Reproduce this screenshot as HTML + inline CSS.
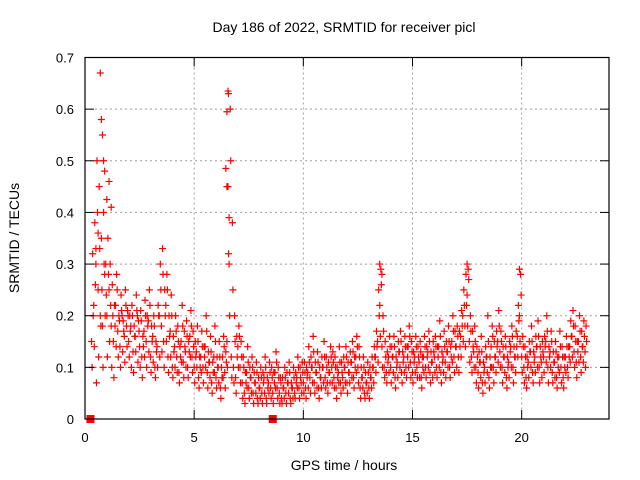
<!DOCTYPE html>
<html><head><meta charset="utf-8"><style>
body{margin:0;background:#fff}
svg{display:block;font-family:"Liberation Sans",sans-serif}
</style></head><body>
<svg id="chart" width="640" height="480" viewBox="0 0 640 480">
<g id="grid"></g>
<g id="pts"></g>
<rect x="85" y="57.5" width="524" height="361.5" fill="none" stroke="#000" stroke-width="1.2"/>
<g id="ticks"></g>
<text x="344" y="32" font-size="14" text-anchor="middle">Day 186 of 2022, SRMTID for receiver picl</text>
<text x="344" y="470" font-size="14" text-anchor="middle">GPS time / hours</text>
<text transform="translate(19,238) rotate(-90)" font-size="14" text-anchor="middle">SRMTID / TECUs</text>
</svg>
<script>
const xTicks=[0,5,10,15,20];
const yTicks=[0,0.1,0.2,0.3,0.4,0.5,0.6,0.7];
const yTickLabels=["0","0.1","0.2","0.3","0.4","0.5","0.6","0.7"];
const tStart=0.3, tStep=0.1;
const seriesA=[.15,.22,.3,.25,.2,.18,.28,
.2,.25,.18,.15,.22,.17,.14,.2,.16,.18,
.15,.18,.13,.16,.2,.14,.12,.17,.15,.19,
.12,.16,.1,.14,.2,.18,.15,.22,.12,.17,
.1,.14,.12,.09,.15,.11,.13,.1,.16,.12,
.1,.13,.08,.12,.1,.14,.09,.11,.07,.12,
.08,.1,.06,.12,.09,.15,.3,.12,.1,.08,
.14,.1,.07,.05,.09,.06,.08,.05,.07,.04,
.06,.05,.08,.04,.07,.06,.05,.09,.06,.05,
.04,.06,.05,.07,.04,.06,.05,.08,.06,.07,
.07,.06,.09,.08,.1,.07,.09,.06,.08,.1,
.08,.07,.09,.1,.08,.06,.09,.07,.08,.1,
.07,.09,.11,.08,.12,.1,.06,.08,.05,.07,
.06,.08,.1,.12,.15,.22,.14,.1,.09,.12,
.1,.12,.08,.11,.13,.09,.12,.1,.14,.11,
.09,.12,.1,.11,.08,.12,.1,.13,.09,.11,
.12,.1,.14,.09,.12,.11,.13,.1,.15,.12,
.14,.12,.16,.2,.18,.24,.15,.12,.13,.1,
.09,.11,.07,.1,.12,.08,.14,.1,.12,.15,
.13,.1,.12,.08,.11,.14,.1,.12,.16,.2,
.12,.1,.08,.11,.13,.09,.12,.14,.1,.11,
.12,.15,.1,.13,.09,.11,.08,.12,.1,.08,
.12,.1,.14,.16,.13,.11,.15,.12,.14,.13];
const seriesB=[.32,.38,.5,.45,.35,.4,.3,
.35,.3,.26,.22,.28,.2,.24,.19,.25,.21,
.2,.22,.18,.24,.19,.21,.16,.23,.2,.25,
.18,.2,.15,.22,.3,.33,.25,.28,.2,.24,
.16,.2,.18,.14,.22,.17,.19,.15,.21,.17,
.15,.18,.12,.17,.14,.2,.13,.16,.11,.18,
.12,.15,.1,.16,.13,.45,.6,.38,.2,.16,
.18,.15,.12,.09,.14,.1,.12,.09,.11,.08,
.1,.09,.12,.08,.11,.1,.09,.13,.1,.08,
.08,.1,.09,.11,.07,.1,.09,.12,.1,.11,
.11,.1,.14,.12,.16,.11,.13,.1,.12,.15,
.12,.11,.14,.13,.12,.1,.14,.11,.12,.14,
.11,.13,.15,.12,.16,.14,.1,.12,.09,.11,
.1,.12,.14,.17,.25,.29,.2,.15,.13,.16,
.14,.16,.12,.15,.17,.13,.16,.14,.18,.15,
.13,.16,.14,.15,.12,.16,.14,.17,.13,.15,
.16,.14,.19,.13,.17,.15,.18,.14,.2,.17,
.18,.17,.21,.25,.28,.29,.2,.17,.18,.14,
.13,.16,.11,.14,.2,.12,.18,.15,.17,.21,
.17,.14,.16,.12,.15,.18,.14,.17,.22,.28,
.16,.14,.12,.15,.18,.13,.16,.19,.14,.15,
.16,.2,.14,.17,.13,.15,.12,.17,.14,.12,
.16,.14,.19,.21,.18,.15,.2,.17,.19,.18];
const seriesC=[.1,.14,.07,.12,.18,.1,.2,
.12,.15,.1,.08,.14,.12,.1,.13,.11,.14,
.12,.1,.09,.13,.11,.1,.08,.12,.1,.13,
.09,.11,.08,.1,.12,.13,.1,.15,.09,.12,
.08,.1,.09,.07,.11,.08,.1,.08,.12,.09,
.07,.1,.06,.09,.07,.1,.06,.08,.05,.09,
.06,.07,.04,.08,.06,.1,.2,.08,.07,.05,
.1,.07,.04,.03,.06,.04,.05,.03,.05,.03,
.04,.03,.05,.03,.05,.04,.03,.06,.04,.03,
.03,.04,.03,.05,.03,.04,.04,.06,.04,.05,
.05,.04,.06,.05,.07,.05,.06,.04,.06,.07,
.06,.05,.07,.07,.06,.04,.07,.05,.06,.07,
.05,.07,.08,.06,.09,.07,.04,.06,.04,.05,
.04,.06,.07,.09,.11,.16,.1,.08,.07,.09,
.07,.09,.06,.08,.1,.07,.09,.08,.1,.08,
.07,.09,.08,.08,.06,.09,.08,.1,.07,.08,
.09,.08,.1,.07,.09,.08,.1,.08,.11,.09,
.1,.09,.12,.15,.14,.18,.11,.09,.1,.07,
.06,.08,.05,.07,.09,.06,.1,.07,.09,.11,
.1,.07,.09,.06,.08,.1,.07,.09,.12,.15,
.09,.07,.06,.08,.1,.07,.09,.1,.07,.08,
.09,.11,.07,.1,.07,.08,.06,.09,.07,.06,
.09,.08,.11,.12,.1,.08,.11,.09,.11,.1];
const seriesD=[.2,.26,.4,.33,.25,.3,.24,
.28,.22,.2,.18,.25,.19,.21,.17,.22,.2,
.17,.2,.16,.21,.17,.19,.14,.2,.18,.22,
.15,.18,.13,.2,.25,.28,.2,.25,.16,.2,
.13,.17,.15,.12,.18,.14,.16,.13,.18,.14,
.12,.15,.1,.14,.12,.17,.11,.13,.09,.15,
.1,.12,.08,.14,.11,.32,.5,.25,.15,.12,
.16,.12,.1,.07,.11,.08,.1,.07,.09,.06,
.08,.07,.1,.06,.09,.08,.07,.11,.08,.07,
.06,.08,.07,.09,.06,.08,.07,.1,.08,.09,
.09,.08,.11,.1,.13,.09,.11,.08,.1,.12,
.1,.09,.12,.11,.1,.08,.11,.09,.1,.12,
.09,.11,.13,.1,.14,.12,.08,.1,.07,.09,
.08,.1,.12,.14,.2,.26,.17,.12,.11,.14,
.12,.14,.1,.13,.15,.11,.14,.12,.16,.13,
.11,.14,.12,.13,.1,.14,.12,.15,.11,.13,
.14,.12,.16,.11,.14,.13,.15,.12,.17,.14,
.16,.14,.18,.22,.22,.27,.17,.14,.15,.12,
.11,.13,.09,.12,.15,.1,.16,.12,.14,.18,
.15,.12,.14,.1,.13,.16,.12,.14,.19,.24,
.14,.12,.1,.13,.15,.11,.14,.16,.12,.13,
.14,.17,.12,.15,.11,.13,.1,.14,.12,.1,
.14,.12,.16,.18,.15,.13,.17,.14,.16,.15];
const extraT=[0.7,0.75,0.8,0.85,0.9,1.1,1.2,6.55,6.57,6.5,6.45,6.5,6.6,13.5,13.6,17.5,19.9,1.0,0.6,0.5];
const extraV=[.67,.58,.55,.5,.48,.46,.41,.635,.63,.595,.485,.45,.39,.3,.28,.3,.29,.425,.36,.33];
const zeroT=[0.25,8.6];
const zeroV=[0,0];
const NS='http://www.w3.org/2000/svg';
const X=t=>85+t*(524/24);
const Y=v=>419-v*(361.5/0.7);
const grid=document.getElementById('grid'),ticks=document.getElementById('ticks'),pts=document.getElementById('pts');
function mk(tag,attrs,parent){const e=document.createElementNS(NS,tag);for(const k in attrs)e.setAttribute(k,attrs[k]);parent.appendChild(e);return e;}
yTicks.forEach((v,i)=>{
 const y=Y(v);
 if(i>0&&i<yTicks.length-1){const g=mk('line',{x1:85,x2:609,y1:y,y2:y,stroke:'#a0a0a0','stroke-dasharray':'2,3'},grid);
 
 }
 const tl=mk('line',{x1:85,x2:94,y1:y,y2:y,stroke:'#000'},ticks);
 
 
 const tr=mk('line',{x1:600,x2:609,y1:y,y2:y,stroke:'#000'},ticks);
 
 
 const t=mk('text',{x:74,y:y+5,'font-size':13,'text-anchor':'end'},ticks);t.textContent=yTickLabels[i];
 
 
});
xTicks.forEach(v=>{
 const x=X(v);
 if(v>0){const g=mk('line',{x1:x,x2:x,y1:57.5,y2:419,stroke:'#a0a0a0','stroke-dasharray':'2,3'},grid);
 
 }
 const tb=mk('line',{x1:x,x2:x,y1:410,y2:419,stroke:'#000'},ticks);
 
 
 const tt=mk('line',{x1:x,x2:x,y1:57.5,y2:66.5,stroke:'#000'},ticks);
 
 
 const t=mk('text',{x:x,y:442,'font-size':13,'text-anchor':'middle'},ticks);t.textContent=String(v);
 
 
});
function plus(t,v,col){
 const x=X(t),y=Y(v);
 const p=mk('path',{d:`M${x-3.5},${y}H${x+3.5}M${x},${y-3.5}V${y+3.5}`,stroke:col||'#f00','stroke-width':1.2,fill:'none'},pts);
 
 
}
seriesC.forEach((v,i)=>plus(tStart+i*tStep+0.025,v));
seriesA.forEach((v,i)=>plus(tStart+i*tStep,v));
seriesD.forEach((v,i)=>plus(tStart+i*tStep+0.075,v));
seriesB.forEach((v,i)=>plus(tStart+i*tStep+0.05,v));
extraT.forEach((t,i)=>plus(t,extraV[i]));
zeroT.forEach((t,i)=>{
 const r=mk('rect',{x:X(t)-4,y:Y(zeroV[i])-4,width:8,height:8,fill:'#f00'},pts);
 
 
});
</script>
</body></html>
